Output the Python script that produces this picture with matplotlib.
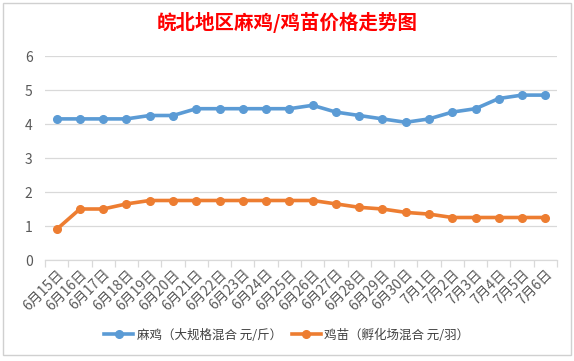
import matplotlib
matplotlib.use("Agg")
from matplotlib import pyplot as plt
from matplotlib.patches import Rectangle

plt.rcParams['font.family'] = ['Noto Sans CJK SC', 'DejaVu Sans']

dates = ["6月15日", "6月16日", "6月17日", "6月18日", "6月19日", "6月20日",
         "6月21日", "6月22日", "6月23日", "6月24日", "6月25日", "6月26日",
         "6月27日", "6月28日", "6月29日", "6月30日", "7月1日", "7月2日",
         "7月3日", "7月4日", "7月5日", "7月6日"]
maji = [4.15, 4.15, 4.15, 4.15, 4.25, 4.25, 4.45, 4.45, 4.45, 4.45, 4.45,
        4.55, 4.35, 4.25, 4.15, 4.05, 4.15, 4.35, 4.45, 4.75, 4.85, 4.85]
jimiao = [0.9, 1.5, 1.5, 1.65, 1.75, 1.75, 1.75, 1.75, 1.75, 1.75, 1.75,
          1.75, 1.65, 1.55, 1.5, 1.4, 1.35, 1.25, 1.25, 1.25, 1.25, 1.25]
name1 = "麻鸡（大规格混合 元/斤）"
name2 = "鸡苗（孵化场混合 元/羽）"
title = "皖北地区麻鸡/鸡苗价格走势图"

W, H = 574, 361
fig = plt.figure(figsize=(W / 100, H / 100), dpi=100)

# chart frame
fig.patches.append(Rectangle((3 / W, 6 / H), 568 / W, 352 / H, transform=fig.transFigure,
                             fill=False, edgecolor='#D0D0D0', lw=1))

ax = fig.add_axes([45 / W, 101 / H, 512 / W, 204 / H])
x = list(range(len(dates)))
ax.plot(x, maji, color='#5B9BD5', lw=2.6, marker='o', ms=5.5, label=name1)
ax.plot(x, jimiao, color='#ED7D31', lw=2.6, marker='o', ms=5.5, label=name2)

ax.set_xlim(-0.5, len(dates) - 0.5)
ax.set_ylim(0, 6)
ax.set_yticks(range(7))
ax.yaxis.grid(True, color='#D9D9D9', lw=0.9)
ax.set_axisbelow(True)
for s in ['top', 'right', 'left']:
    ax.spines[s].set_visible(False)
ax.spines['bottom'].set_color('#D9D9D9')
ax.spines['bottom'].set_linewidth(0.9)

ax.set_xticks([i - 0.5 for i in range(len(dates) + 1)])
ax.set_xticklabels([])
ax.set_xticks(x, minor=True)
ax.set_xticklabels(dates, minor=True, rotation=45, ha='right', va='top',
                   rotation_mode='anchor', fontsize=10, color='#595959')
ax.tick_params(axis='x', which='major', length=5, color='#D9D9D9', width=0.9)
ax.tick_params(axis='x', which='minor', length=0, pad=5)
ax.tick_params(axis='y', length=0, labelsize=10, labelcolor='#595959', pad=9)

fig.text(0.5, 1 - 22 / H, title, color='#FF0000', fontsize=14, ha='center', va='center',
         fontweight='bold')

fig.legend(loc='center', bbox_to_anchor=(0.5, 1 - 335 / H), ncol=2, frameon=False,
           fontsize=9, handlelength=2.3, handletextpad=0.3, columnspacing=0.8,
           labelcolor='#404040')

fig.savefig("out.png", dpi=100)
